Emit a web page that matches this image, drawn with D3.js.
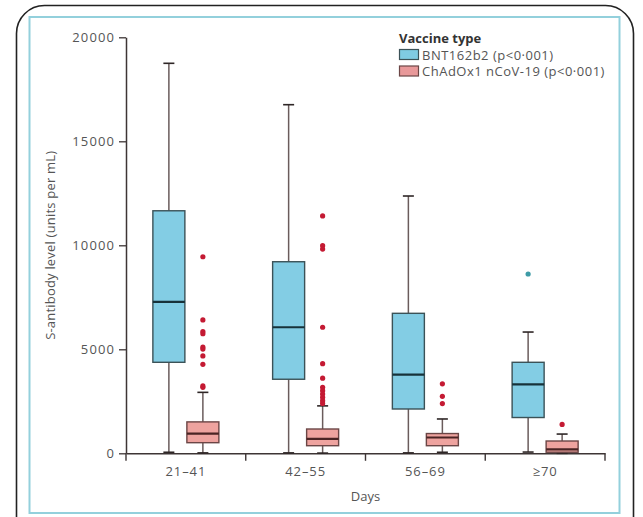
<!DOCTYPE html>
<html>
<head>
<meta charset="utf-8">
<script src="https://cdn.jsdelivr.net/npm/d3@7"></script>
<style>
  html, body { margin: 0; padding: 0; background: #fff; }
  svg { display: block; }
  text { font-family: "Open Sans", "Noto Sans", sans-serif; }
</style>
</head>
<body>
<svg id="chart" width="643" height="517"></svg>
<script>
// ---- Data ----
const categories = ["21–41", "42–55", "56–69", "≥70"];
const seriesNames = ["BNT162b2 (p<0·001)", "ChAdOx1 nCoV-19 (p<0·001)"];
const yTicks = [0, 5000, 10000, 15000, 20000];

// BNT162b2 box statistics per category
const bntMin    = [50, 20, 20, 60];
const bntQ1     = [4375, 3560, 2130, 1720];
const bntMedian = [7280, 6060, 3780, 3310];
const bntQ3     = [11660, 9210, 6730, 4375];
const bntMax    = [18750, 16760, 12370, 5830];
const bntOutliers = [[], [], [], [8620]];

// ChAdOx1 nCoV-19 box statistics per category
const chadMin    = [20, 10, 50, 0];
const chadQ1     = [510, 365, 365, 50];
const chadMedian = [950, 690, 760, 190];
const chadQ3     = [1510, 1168, 950, 591];
const chadMax    = [2930, 2280, 1650, 925];
const chadOutliers = [
  [9450, 6410, 5850, 5750, 5100, 5010, 4680, 4280, 3240, 3170],
  [11410, 9980, 9820, 6060, 4310, 3610, 3170, 3010, 2850, 2690, 2530, 2400],
  [3340, 2740, 2390],
  [1390]
];

// ---- Styles ----
const styles = [
  { fill: "#83cde4", stroke: "#3b5257", median: "#17323a", outlier: "#3d9ba6", offset: -17 },
  { fill: "#eea39f", stroke: "#6b4646", median: "#4a2424", outlier: "#c41a33", offset: 17 }
];

const svg = d3.select("#chart");

// ---- Frame ----
svg.append("rect")
  .attr("x", 16.5).attr("y", 5.5).attr("width", 617).attr("height", 640)
  .attr("rx", 28).attr("ry", 28)
  .attr("fill", "#fff").attr("stroke", "#222").attr("stroke-width", 1.6);
svg.append("rect")
  .attr("x", 29.5).attr("y", 17).attr("width", 590).attr("height", 496)
  .attr("fill", "#fff").attr("stroke", "#93d0dc").attr("stroke-width", 2);

// ---- Scales ----
const x = d3.scaleBand().domain(categories).range([126, 605]).padding(0);
const y = d3.scaleLinear().domain([0, 20000]).range([453.3, 37.3]);
const boxW = 32;
const capW = 11;

// ---- Axes ----
const axisColor = "#3d3535";
const labelColor = "#555";

const yAxis = svg.append("g")
  .attr("transform", "translate(126,0)")
  .call(d3.axisLeft(y).tickValues(yTicks).tickSize(7).tickSizeOuter(0).tickPadding(4).tickFormat(d => String(d)));
yAxis.select(".domain").attr("stroke", axisColor).attr("stroke-width", 1.5);
yAxis.selectAll(".tick line").attr("stroke", axisColor).attr("stroke-width", 1.3);
yAxis.selectAll(".tick text")
  .attr("fill", labelColor).style("font-size", "13px").style("letter-spacing", "1.1px");

const xAxis = svg.append("g")
  .attr("transform", `translate(0,${y(0)})`)
  .call(d3.axisBottom(x).tickSize(0).tickSizeOuter(0).tickPadding(13));
xAxis.select(".domain").attr("stroke", axisColor).attr("stroke-width", 1.5);
xAxis.selectAll(".tick text")
  .attr("fill", labelColor).style("font-size", "13px").style("letter-spacing", "0.9px");

// boundary ticks between categories
const bounds = categories.map(c => x(c)).concat([x(categories[categories.length - 1]) + x.bandwidth()]);
xAxis.selectAll(".bound").data(bounds).enter().append("line")
  .attr("class", "bound")
  .attr("x1", d => d).attr("x2", d => d)
  .attr("y1", 0).attr("y2", 7.5)
  .attr("stroke", axisColor).attr("stroke-width", 1.4);

// axis titles
svg.append("text")
  .attr("transform", `translate(55,${(y(0) + y(20000)) / 2}) rotate(-90)`)
  .attr("text-anchor", "middle")
  .attr("fill", labelColor)
  .style("font-size", "13px")
  .style("letter-spacing", "0.2px")
  .text("S-antibody level (units per mL)");

svg.append("text")
  .attr("x", (126 + 605) / 2).attr("y", 501)
  .attr("text-anchor", "middle")
  .attr("fill", labelColor)
  .style("font-size", "13px")
  .text("Days");

// ---- Boxes ----
const series = [
  { min: bntMin, q1: bntQ1, med: bntMedian, q3: bntQ3, max: bntMax, out: bntOutliers },
  { min: chadMin, q1: chadQ1, med: chadMedian, q3: chadQ3, max: chadMax, out: chadOutliers }
];

series.forEach((s, si) => {
  const st = styles[si];
  const rows = categories.map((c, i) => ({
    c, min: s.min[i], q1: s.q1[i], med: s.med[i], q3: s.q3[i], max: s.max[i], out: s.out[i],
    cx: x(c) + x.bandwidth() / 2 + st.offset
  }));
  const g = svg.append("g");
  // whiskers
  g.selectAll(".wu").data(rows).enter().append("line")
    .attr("x1", d => d.cx).attr("x2", d => d.cx)
    .attr("y1", d => y(d.q3)).attr("y2", d => y(d.max))
    .attr("stroke", "#6a5c5c").attr("stroke-width", 1.5);
  g.selectAll(".wl").data(rows).enter().append("line")
    .attr("x1", d => d.cx).attr("x2", d => d.cx)
    .attr("y1", d => y(d.q1)).attr("y2", d => y(d.min))
    .attr("stroke", "#6a5c5c").attr("stroke-width", 1.5);
  // caps
  g.selectAll(".cu").data(rows).enter().append("line")
    .attr("x1", d => d.cx - capW / 2).attr("x2", d => d.cx + capW / 2)
    .attr("y1", d => y(d.max)).attr("y2", d => y(d.max))
    .attr("stroke", "#2e2626").attr("stroke-width", 1.6);
  g.selectAll(".cl").data(rows).enter().append("line")
    .attr("x1", d => d.cx - capW / 2).attr("x2", d => d.cx + capW / 2)
    .attr("y1", d => y(d.min)).attr("y2", d => y(d.min))
    .attr("stroke", "#2e2626").attr("stroke-width", 1.6);
  // boxes
  g.selectAll(".box").data(rows).enter().append("rect")
    .attr("x", d => d.cx - boxW / 2).attr("width", boxW)
    .attr("y", d => y(d.q3)).attr("height", d => y(d.q1) - y(d.q3))
    .attr("fill", st.fill).attr("stroke", st.stroke).attr("stroke-width", 1.4);
  // medians
  g.selectAll(".med").data(rows).enter().append("line")
    .attr("x1", d => d.cx - boxW / 2).attr("x2", d => d.cx + boxW / 2)
    .attr("y1", d => y(d.med)).attr("y2", d => y(d.med))
    .attr("stroke", st.median).attr("stroke-width", 2.2);
  // outliers
  rows.forEach(d => {
    g.selectAll(null).data(d.out).enter().append("circle")
      .attr("cx", d.cx).attr("cy", v => y(v)).attr("r", 2.6)
      .attr("fill", st.outlier);
  });
});

// ---- Legend ----
const legend = svg.append("g");
legend.append("text")
  .attr("x", 399).attr("y", 43)
  .attr("fill", "#333")
  .style("font-size", "13px").style("font-weight", "bold")
  .text("Vaccine type");
const legendFill = ["#7fcbe2", "#e8999a"];
seriesNames.forEach((name, i) => {
  const yy = 49.5 + i * 16.5;
  legend.append("rect")
    .attr("x", 399.5).attr("y", yy).attr("width", 19).attr("height", 10)
    .attr("fill", legendFill[i]).attr("stroke", styles[i].stroke).attr("stroke-width", 1.2);
  legend.append("text")
    .attr("x", 422).attr("y", yy + 10)
    .attr("fill", labelColor)
    .style("font-size", "13px").style("letter-spacing", "0.5px")
    .text(name);
});
</script>
</body>
</html>
